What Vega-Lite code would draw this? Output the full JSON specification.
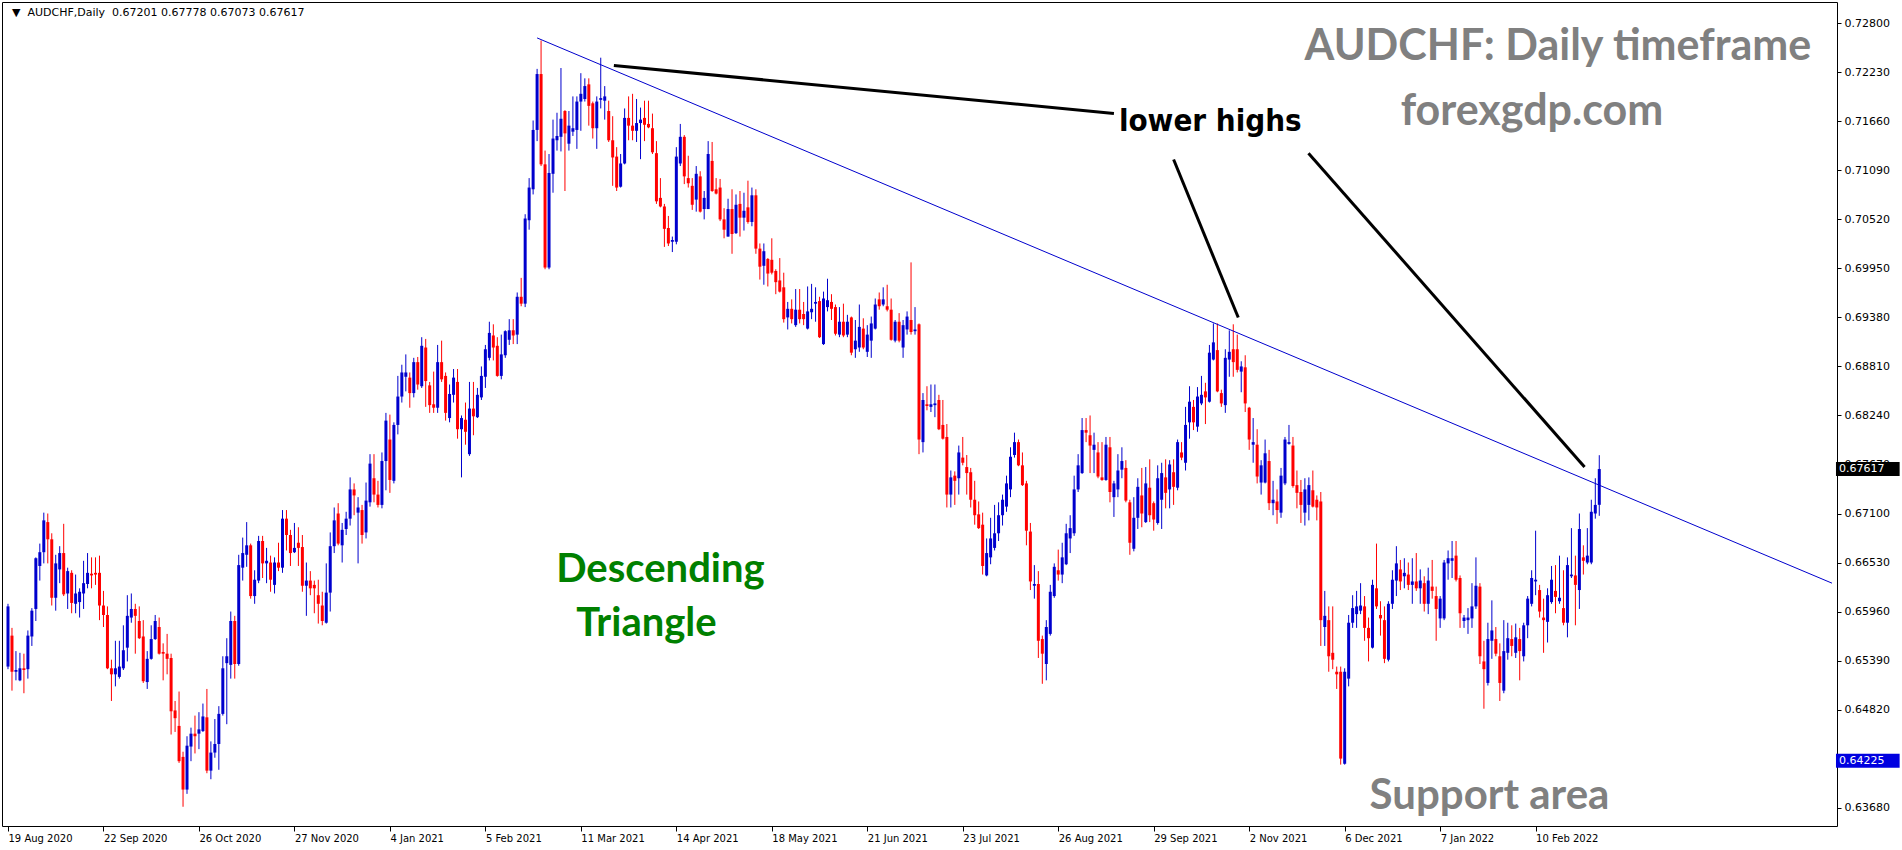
{
  "$schema": "https://vega.github.io/schema/vega-lite/v6.json",
  "width": 1835,
  "height": 824,
  "autosize": {"type": "none"},
  "padding": {"left": 2, "top": 2, "right": 65, "bottom": 24},
  "background": "white",
  "config": {"view": {"stroke": "black", "strokeWidth": 1}},
  "datasets": {
    "candles": [
{"i":0,"o":0.6532,"h":0.6605,"l":0.6529,"c":0.6602},{"i":1,"o":0.6568,"h":0.6577,"l":0.6504,"c":0.6526},{"i":2,"o":0.6526,"h":0.655,"l":0.6516,"c":0.6528},{"i":3,"o":0.6516,"h":0.6548,"l":0.6515,"c":0.653},{"i":4,"o":0.653,"h":0.6547,"l":0.6501,"c":0.6528},{"i":5,"o":0.6529,"h":0.6574,"l":0.6518,"c":0.6568},{"i":6,"o":0.6567,"h":0.66,"l":0.6556,"c":0.6597},{"i":7,"o":0.6599,"h":0.6659,"l":0.6585,"c":0.6658},{"i":8,"o":0.6649,"h":0.6675,"l":0.6632,"c":0.6665},{"i":9,"o":0.6665,"h":0.6711,"l":0.6652,"c":0.6702},
{"i":10,"o":0.67,"h":0.671,"l":0.6652,"c":0.668},{"i":11,"o":0.668,"h":0.6687,"l":0.6603,"c":0.6612},{"i":12,"o":0.6612,"h":0.6662,"l":0.6597,"c":0.6652},{"i":13,"o":0.6645,"h":0.6672,"l":0.6629,"c":0.6664},{"i":14,"o":0.6664,"h":0.6698,"l":0.6614,"c":0.6616},{"i":15,"o":0.6617,"h":0.6647,"l":0.6599,"c":0.6643},{"i":16,"o":0.6641,"h":0.6644,"l":0.6594,"c":0.6606},{"i":17,"o":0.6605,"h":0.6639,"l":0.6594,"c":0.6617},{"i":18,"o":0.6607,"h":0.6623,"l":0.6589,"c":0.6619},{"i":19,"o":0.6617,"h":0.6655,"l":0.6599,"c":0.6629},
{"i":20,"o":0.6628,"h":0.6664,"l":0.6623,"c":0.6641},{"i":21,"o":0.664,"h":0.6659,"l":0.6623,"c":0.6638},{"i":22,"o":0.6641,"h":0.6659,"l":0.6627,"c":0.6639},{"i":23,"o":0.6641,"h":0.6661,"l":0.6586,"c":0.6603},{"i":24,"o":0.6603,"h":0.662,"l":0.6578,"c":0.6592},{"i":25,"o":0.6592,"h":0.6602,"l":0.6529,"c":0.653},{"i":26,"o":0.653,"h":0.654,"l":0.6492,"c":0.6523},{"i":27,"o":0.6523,"h":0.6562,"l":0.6509,"c":0.653},{"i":28,"o":0.652,"h":0.6562,"l":0.6518,"c":0.6532},{"i":29,"o":0.653,"h":0.658,"l":0.6528,"c":0.6551},
{"i":30,"o":0.6554,"h":0.6615,"l":0.6538,"c":0.6591},{"i":31,"o":0.6589,"h":0.6617,"l":0.6583,"c":0.6599},{"i":32,"o":0.6599,"h":0.6605,"l":0.6547,"c":0.6591},{"i":33,"o":0.6585,"h":0.6602,"l":0.6564,"c":0.6565},{"i":34,"o":0.6567,"h":0.6586,"l":0.6513,"c":0.6515},{"i":35,"o":0.6514,"h":0.655,"l":0.6506,"c":0.6541},{"i":36,"o":0.6541,"h":0.658,"l":0.654,"c":0.6564},{"i":37,"o":0.6564,"h":0.6592,"l":0.6563,"c":0.6585},{"i":38,"o":0.6578,"h":0.6589,"l":0.6546,"c":0.6547},{"i":39,"o":0.6549,"h":0.6559,"l":0.6516,"c":0.6547},
{"i":40,"o":0.6547,"h":0.657,"l":0.6523,"c":0.6541},{"i":41,"o":0.6542,"h":0.6547,"l":0.6453,"c":0.648},{"i":42,"o":0.6481,"h":0.6492,"l":0.6456,"c":0.6472},{"i":43,"o":0.6463,"h":0.6503,"l":0.642,"c":0.6422},{"i":44,"o":0.6427,"h":0.6433,"l":0.6369,"c":0.6389},{"i":45,"o":0.6389,"h":0.6451,"l":0.6384,"c":0.644},{"i":46,"o":0.6439,"h":0.6461,"l":0.6422,"c":0.6454},{"i":47,"o":0.6454,"h":0.6475,"l":0.6431,"c":0.6451},{"i":48,"o":0.6454,"h":0.6479,"l":0.6436,"c":0.6459},{"i":49,"o":0.6457,"h":0.6489,"l":0.6456,"c":0.6474},
{"i":50,"o":0.6473,"h":0.6506,"l":0.6408,"c":0.6411},{"i":51,"o":0.6411,"h":0.6445,"l":0.6401,"c":0.6432},{"i":52,"o":0.6432,"h":0.6471,"l":0.6426,"c":0.6442},{"i":53,"o":0.6442,"h":0.6486,"l":0.6412,"c":0.6477},{"i":54,"o":0.6477,"h":0.6544,"l":0.6475,"c":0.653},{"i":55,"o":0.6536,"h":0.6565,"l":0.6465,"c":0.6544},{"i":56,"o":0.6534,"h":0.6596,"l":0.6518,"c":0.6585},{"i":57,"o":0.6585,"h":0.6591,"l":0.6518,"c":0.6535},{"i":58,"o":0.6535,"h":0.6662,"l":0.6533,"c":0.665},{"i":59,"o":0.6647,"h":0.6682,"l":0.6632,"c":0.6664},
{"i":60,"o":0.6662,"h":0.67,"l":0.6648,"c":0.6673},{"i":61,"o":0.6673,"h":0.6675,"l":0.6611,"c":0.6614},{"i":62,"o":0.6614,"h":0.6644,"l":0.6605,"c":0.6633},{"i":63,"o":0.6632,"h":0.6684,"l":0.6629,"c":0.6678},{"i":64,"o":0.6678,"h":0.6684,"l":0.6635,"c":0.6652},{"i":65,"o":0.6652,"h":0.667,"l":0.6629,"c":0.6655},{"i":66,"o":0.6653,"h":0.6661,"l":0.6619,"c":0.6633},{"i":67,"o":0.6627,"h":0.6659,"l":0.6617,"c":0.6653},{"i":68,"o":0.6653,"h":0.6676,"l":0.6643,"c":0.6647},{"i":69,"o":0.6647,"h":0.6714,"l":0.6641,"c":0.6704},
{"i":70,"o":0.6704,"h":0.6714,"l":0.6667,"c":0.6685},{"i":71,"o":0.6685,"h":0.6691,"l":0.6649,"c":0.6664},{"i":72,"o":0.6665,"h":0.6699,"l":0.6664,"c":0.667},{"i":73,"o":0.6676,"h":0.6694,"l":0.6649,"c":0.667},{"i":74,"o":0.6671,"h":0.6685,"l":0.6619,"c":0.6626},{"i":75,"o":0.6626,"h":0.6653,"l":0.6591,"c":0.6632},{"i":76,"o":0.6632,"h":0.6643,"l":0.6615,"c":0.6623},{"i":77,"o":0.6627,"h":0.6632,"l":0.6594,"c":0.6623},{"i":78,"o":0.6615,"h":0.6633,"l":0.6582,"c":0.6605},{"i":79,"o":0.6603,"h":0.6619,"l":0.658,"c":0.6585},
{"i":80,"o":0.6583,"h":0.6652,"l":0.6582,"c":0.6618},{"i":81,"o":0.6618,"h":0.6688,"l":0.6596,"c":0.6672},{"i":82,"o":0.6672,"h":0.6717,"l":0.6664,"c":0.6702},{"i":83,"o":0.671,"h":0.6722,"l":0.6673,"c":0.6675},{"i":84,"o":0.6673,"h":0.6699,"l":0.6653,"c":0.6691},{"i":85,"o":0.6692,"h":0.6712,"l":0.6685,"c":0.6704},{"i":86,"o":0.6704,"h":0.6752,"l":0.6696,"c":0.6738},{"i":87,"o":0.6738,"h":0.6745,"l":0.6708,"c":0.6731},{"i":88,"o":0.6711,"h":0.6729,"l":0.6652,"c":0.6717},{"i":89,"o":0.6714,"h":0.672,"l":0.6675,"c":0.6685},
{"i":90,"o":0.6688,"h":0.6746,"l":0.6681,"c":0.6725},{"i":91,"o":0.6723,"h":0.6779,"l":0.6718,"c":0.6768},{"i":92,"o":0.6751,"h":0.6779,"l":0.6723,"c":0.6732},{"i":93,"o":0.6732,"h":0.6748,"l":0.6717,"c":0.672},{"i":94,"o":0.672,"h":0.6781,"l":0.6716,"c":0.6771},{"i":95,"o":0.6771,"h":0.6827,"l":0.6737,"c":0.6818},{"i":96,"o":0.6796,"h":0.6825,"l":0.6734,"c":0.6749},{"i":97,"o":0.6748,"h":0.6816,"l":0.6745,"c":0.6813},{"i":98,"o":0.6813,"h":0.687,"l":0.6802,"c":0.6846},{"i":99,"o":0.6846,"h":0.6883,"l":0.6839,"c":0.6874},
{"i":100,"o":0.6869,"h":0.6895,"l":0.6852,"c":0.6874},{"i":101,"o":0.6868,"h":0.6874,"l":0.6833,"c":0.685},{"i":102,"o":0.685,"h":0.6891,"l":0.6845,"c":0.6886},{"i":103,"o":0.6886,"h":0.6892,"l":0.6854,"c":0.686},{"i":104,"o":0.6858,"h":0.6915,"l":0.6856,"c":0.6905},{"i":105,"o":0.6903,"h":0.6913,"l":0.6834,"c":0.6864},{"i":106,"o":0.6859,"h":0.6863,"l":0.6827,"c":0.6836},{"i":107,"o":0.6837,"h":0.6875,"l":0.6827,"c":0.6833},{"i":108,"o":0.6833,"h":0.6906,"l":0.6827,"c":0.6886},{"i":109,"o":0.6886,"h":0.6911,"l":0.6863,"c":0.6866},
{"i":110,"o":0.687,"h":0.6874,"l":0.6818,"c":0.6827},{"i":111,"o":0.6821,"h":0.686,"l":0.6816,"c":0.6849},{"i":112,"o":0.6848,"h":0.6878,"l":0.6839,"c":0.6868},{"i":113,"o":0.6863,"h":0.6878,"l":0.6797,"c":0.6808},{"i":114,"o":0.6808,"h":0.6824,"l":0.6752,"c":0.6821},{"i":115,"o":0.6819,"h":0.6839,"l":0.679,"c":0.6805},{"i":116,"o":0.6779,"h":0.6863,"l":0.6777,"c":0.6832},{"i":117,"o":0.6832,"h":0.6863,"l":0.6801,"c":0.6823},{"i":118,"o":0.6822,"h":0.6856,"l":0.6821,"c":0.6848},{"i":119,"o":0.6845,"h":0.6881,"l":0.6842,"c":0.687},
{"i":120,"o":0.6869,"h":0.6906,"l":0.6856,"c":0.6901},{"i":121,"o":0.6891,"h":0.6933,"l":0.6888,"c":0.692},{"i":122,"o":0.6917,"h":0.693,"l":0.6888,"c":0.6903},{"i":123,"o":0.6905,"h":0.6915,"l":0.6869,"c":0.687},{"i":124,"o":0.687,"h":0.6918,"l":0.6866,"c":0.6895},{"i":125,"o":0.6894,"h":0.6923,"l":0.6891,"c":0.6922},{"i":126,"o":0.6912,"h":0.6936,"l":0.6906,"c":0.6923},{"i":127,"o":0.6923,"h":0.6936,"l":0.6907,"c":0.6917},{"i":128,"o":0.6918,"h":0.6967,"l":0.6907,"c":0.6962},{"i":129,"o":0.6962,"h":0.6984,"l":0.6951,"c":0.6954},
{"i":130,"o":0.6954,"h":0.7058,"l":0.695,"c":0.7053},{"i":131,"o":0.7051,"h":0.71,"l":0.704,"c":0.7089},{"i":132,"o":0.7087,"h":0.7167,"l":0.7081,"c":0.7156},{"i":133,"o":0.7156,"h":0.7227,"l":0.7143,"c":0.7221},{"i":134,"o":0.7221,"h":0.726,"l":0.7114,"c":0.7116},{"i":135,"o":0.7116,"h":0.7132,"l":0.6994,"c":0.6996},{"i":136,"o":0.6996,"h":0.7128,"l":0.6994,"c":0.7106},{"i":137,"o":0.7105,"h":0.7168,"l":0.7083,"c":0.7146},{"i":138,"o":0.7144,"h":0.7176,"l":0.7132,"c":0.7149},{"i":139,"o":0.7148,"h":0.7228,"l":0.7131,"c":0.7169},
{"i":140,"o":0.7178,"h":0.7179,"l":0.7085,"c":0.7152},{"i":141,"o":0.714,"h":0.7178,"l":0.7132,"c":0.7161},{"i":142,"o":0.7154,"h":0.7195,"l":0.7149,"c":0.7158},{"i":143,"o":0.7156,"h":0.7195,"l":0.7134,"c":0.7189},{"i":144,"o":0.7189,"h":0.7222,"l":0.7155,"c":0.7198},{"i":145,"o":0.7192,"h":0.7216,"l":0.7189,"c":0.7207},{"i":146,"o":0.7209,"h":0.7216,"l":0.7161,"c":0.7184},{"i":147,"o":0.7187,"h":0.7189,"l":0.7146,"c":0.7158},{"i":148,"o":0.7158,"h":0.7195,"l":0.7134,"c":0.7189},{"i":149,"o":0.7191,"h":0.724,"l":0.7181,"c":0.7193},
{"i":150,"o":0.719,"h":0.7207,"l":0.7168,"c":0.7195},{"i":151,"o":0.7178,"h":0.719,"l":0.7142,"c":0.7144},{"i":152,"o":0.7144,"h":0.7172,"l":0.7091,"c":0.7124},{"i":153,"o":0.7125,"h":0.7136,"l":0.7085,"c":0.7089},{"i":154,"o":0.709,"h":0.7128,"l":0.7089,"c":0.7117},{"i":155,"o":0.7117,"h":0.7181,"l":0.7116,"c":0.717},{"i":156,"o":0.717,"h":0.7195,"l":0.7144,"c":0.7161},{"i":157,"o":0.7161,"h":0.7198,"l":0.7144,"c":0.7155},{"i":158,"o":0.7155,"h":0.7192,"l":0.7142,"c":0.7164},{"i":159,"o":0.7164,"h":0.7182,"l":0.7122,"c":0.7168},
{"i":160,"o":0.717,"h":0.719,"l":0.7143,"c":0.7162},{"i":161,"o":0.7163,"h":0.719,"l":0.7158,"c":0.7159},{"i":162,"o":0.7158,"h":0.7175,"l":0.7128,"c":0.713},{"i":163,"o":0.7129,"h":0.7143,"l":0.707,"c":0.7073},{"i":164,"o":0.7077,"h":0.71,"l":0.7066,"c":0.7067},{"i":165,"o":0.7067,"h":0.707,"l":0.702,"c":0.7041},{"i":166,"o":0.7042,"h":0.7056,"l":0.7021,"c":0.7024},{"i":167,"o":0.7026,"h":0.7032,"l":0.7014,"c":0.7028},{"i":168,"o":0.7026,"h":0.7136,"l":0.7023,"c":0.7125},{"i":169,"o":0.7117,"h":0.7163,"l":0.7114,"c":0.7148},
{"i":170,"o":0.7148,"h":0.715,"l":0.7093,"c":0.7102},{"i":171,"o":0.71,"h":0.7126,"l":0.7089,"c":0.7094},{"i":172,"o":0.7091,"h":0.71,"l":0.7063,"c":0.7069},{"i":173,"o":0.7075,"h":0.7114,"l":0.7061,"c":0.7105},{"i":174,"o":0.7102,"h":0.7108,"l":0.706,"c":0.7061},{"i":175,"o":0.7064,"h":0.7085,"l":0.7052,"c":0.7077},{"i":176,"o":0.7064,"h":0.7143,"l":0.7064,"c":0.7128},{"i":177,"o":0.712,"h":0.7142,"l":0.7084,"c":0.7085},{"i":178,"o":0.7087,"h":0.71,"l":0.7081,"c":0.7082},{"i":179,"o":0.7089,"h":0.7099,"l":0.705,"c":0.7052},
{"i":180,"o":0.7052,"h":0.7065,"l":0.703,"c":0.704},{"i":181,"o":0.7032,"h":0.7076,"l":0.7032,"c":0.7064},{"i":182,"o":0.7064,"h":0.7087,"l":0.7012,"c":0.7035},{"i":183,"o":0.7036,"h":0.7081,"l":0.7035,"c":0.7069},{"i":184,"o":0.707,"h":0.7085,"l":0.7032,"c":0.7054},{"i":185,"o":0.7054,"h":0.7083,"l":0.7039,"c":0.7062},{"i":186,"o":0.7066,"h":0.7097,"l":0.7047,"c":0.7049},{"i":187,"o":0.7049,"h":0.7089,"l":0.7044,"c":0.708},{"i":188,"o":0.708,"h":0.7087,"l":0.7012,"c":0.7018},{"i":189,"o":0.7018,"h":0.7024,"l":0.6982,"c":0.6997},
{"i":190,"o":0.6998,"h":0.7024,"l":0.6976,"c":0.7015},{"i":191,"o":0.7006,"h":0.7007,"l":0.6974,"c":0.6989},{"i":192,"o":0.7005,"h":0.703,"l":0.6988,"c":0.699},{"i":193,"o":0.6992,"h":0.6994,"l":0.6965,"c":0.6979},{"i":194,"o":0.6981,"h":0.7007,"l":0.6967,"c":0.6968},{"i":195,"o":0.6973,"h":0.699,"l":0.6932,"c":0.6936},{"i":196,"o":0.6938,"h":0.6956,"l":0.6924,"c":0.6948},{"i":197,"o":0.6948,"h":0.6959,"l":0.6931,"c":0.6936},{"i":198,"o":0.6929,"h":0.6971,"l":0.6927,"c":0.6947},{"i":199,"o":0.6947,"h":0.6971,"l":0.6931,"c":0.6936},
{"i":200,"o":0.6942,"h":0.6956,"l":0.6929,"c":0.6936},{"i":201,"o":0.6925,"h":0.6974,"l":0.6924,"c":0.6945},{"i":202,"o":0.6944,"h":0.6977,"l":0.6936,"c":0.6948},{"i":203,"o":0.6954,"h":0.6973,"l":0.6933,"c":0.6956},{"i":204,"o":0.6957,"h":0.6962,"l":0.6914,"c":0.6915},{"i":205,"o":0.6907,"h":0.6968,"l":0.6906,"c":0.696},{"i":206,"o":0.695,"h":0.6983,"l":0.6945,"c":0.6958},{"i":207,"o":0.6956,"h":0.6965,"l":0.6935,"c":0.6948},{"i":208,"o":0.695,"h":0.6953,"l":0.6917,"c":0.6919},{"i":209,"o":0.6918,"h":0.695,"l":0.6915,"c":0.6933},
{"i":210,"o":0.6933,"h":0.6954,"l":0.6915,"c":0.6917},{"i":211,"o":0.6918,"h":0.6941,"l":0.6915,"c":0.6933},{"i":212,"o":0.6938,"h":0.6939,"l":0.6894,"c":0.6897},{"i":213,"o":0.6901,"h":0.6935,"l":0.6891,"c":0.6911},{"i":214,"o":0.6903,"h":0.6953,"l":0.6898,"c":0.6927},{"i":215,"o":0.6925,"h":0.6937,"l":0.6901,"c":0.6903},{"i":216,"o":0.6898,"h":0.6929,"l":0.6892,"c":0.6918},{"i":217,"o":0.6911,"h":0.6939,"l":0.6891,"c":0.6931},{"i":218,"o":0.6925,"h":0.696,"l":0.6924,"c":0.6953},{"i":219,"o":0.6959,"h":0.6967,"l":0.6947,"c":0.6951},
{"i":220,"o":0.6953,"h":0.6973,"l":0.6951,"c":0.6959},{"i":221,"o":0.6951,"h":0.6976,"l":0.6945,"c":0.6947},{"i":222,"o":0.6947,"h":0.696,"l":0.6911,"c":0.6912},{"i":223,"o":0.6911,"h":0.6935,"l":0.6909,"c":0.6933},{"i":224,"o":0.6933,"h":0.6943,"l":0.6909,"c":0.6911},{"i":225,"o":0.6903,"h":0.6935,"l":0.6891,"c":0.6929},{"i":226,"o":0.6924,"h":0.6945,"l":0.6918,"c":0.6939},{"i":227,"o":0.6935,"h":0.7002,"l":0.6918,"c":0.6921},{"i":228,"o":0.6922,"h":0.695,"l":0.6918,"c":0.6924},{"i":229,"o":0.693,"h":0.6931,"l":0.6779,"c":0.6796},
{"i":230,"o":0.6793,"h":0.685,"l":0.6781,"c":0.6842},{"i":231,"o":0.6837,"h":0.6858,"l":0.683,"c":0.6835},{"i":232,"o":0.6834,"h":0.686,"l":0.6828,"c":0.6837},{"i":233,"o":0.6836,"h":0.686,"l":0.6822,"c":0.6838},{"i":234,"o":0.6842,"h":0.6848,"l":0.6807,"c":0.6808},{"i":235,"o":0.6813,"h":0.6842,"l":0.6796,"c":0.6797},{"i":236,"o":0.6799,"h":0.6814,"l":0.6717,"c":0.6732},{"i":237,"o":0.6732,"h":0.676,"l":0.6717,"c":0.6752},{"i":238,"o":0.6754,"h":0.6759,"l":0.672,"c":0.6748},{"i":239,"o":0.6751,"h":0.6789,"l":0.6732,"c":0.6781},
{"i":240,"o":0.6775,"h":0.6799,"l":0.6766,"c":0.6769},{"i":241,"o":0.6764,"h":0.6778,"l":0.6732,"c":0.6757},{"i":242,"o":0.6758,"h":0.6763,"l":0.6717,"c":0.6726},{"i":243,"o":0.6726,"h":0.6748,"l":0.6697,"c":0.6708},{"i":244,"o":0.6709,"h":0.6724,"l":0.6692,"c":0.6693},{"i":245,"o":0.6697,"h":0.6711,"l":0.6639,"c":0.6649},{"i":246,"o":0.6638,"h":0.6681,"l":0.6637,"c":0.6664},{"i":247,"o":0.6659,"h":0.6705,"l":0.6651,"c":0.6681},{"i":248,"o":0.667,"h":0.672,"l":0.6667,"c":0.6687},{"i":249,"o":0.6687,"h":0.6723,"l":0.6678,"c":0.6708},
{"i":250,"o":0.6708,"h":0.6732,"l":0.6696,"c":0.6726},{"i":251,"o":0.6718,"h":0.6754,"l":0.6712,"c":0.6745},{"i":252,"o":0.6738,"h":0.6787,"l":0.6729,"c":0.6776},{"i":253,"o":0.6778,"h":0.6804,"l":0.6775,"c":0.6793},{"i":254,"o":0.6793,"h":0.6796,"l":0.6765,"c":0.6766},{"i":255,"o":0.6766,"h":0.6781,"l":0.6742,"c":0.6743},{"i":256,"o":0.6745,"h":0.6748,"l":0.6673,"c":0.669},{"i":257,"o":0.6689,"h":0.6699,"l":0.6621,"c":0.6631},{"i":258,"o":0.6626,"h":0.665,"l":0.6611,"c":0.6628},{"i":259,"o":0.6628,"h":0.6643,"l":0.6542,"c":0.6562},
{"i":260,"o":0.6564,"h":0.6568,"l":0.6512,"c":0.6547},{"i":261,"o":0.6535,"h":0.6586,"l":0.6516,"c":0.6578},{"i":262,"o":0.657,"h":0.6627,"l":0.6568,"c":0.6619},{"i":263,"o":0.6614,"h":0.6652,"l":0.6612,"c":0.6648},{"i":264,"o":0.6644,"h":0.6668,"l":0.6632,"c":0.6639},{"i":265,"o":0.6639,"h":0.6676,"l":0.6629,"c":0.6659},{"i":266,"o":0.6651,"h":0.6698,"l":0.665,"c":0.6687},{"i":267,"o":0.6681,"h":0.6708,"l":0.6664,"c":0.6693},{"i":268,"o":0.6687,"h":0.6754,"l":0.6684,"c":0.6738},{"i":269,"o":0.6738,"h":0.6779,"l":0.6735,"c":0.6766},
{"i":270,"o":0.6757,"h":0.6821,"l":0.6756,"c":0.6807},{"i":271,"o":0.6807,"h":0.6821,"l":0.6793,"c":0.6804},{"i":272,"o":0.6801,"h":0.6824,"l":0.6757,"c":0.6789},{"i":273,"o":0.6784,"h":0.6804,"l":0.6757,"c":0.679},{"i":274,"o":0.6781,"h":0.6793,"l":0.6751,"c":0.6753},{"i":275,"o":0.6752,"h":0.6793,"l":0.6748,"c":0.6749},{"i":276,"o":0.6749,"h":0.6799,"l":0.6748,"c":0.679},{"i":277,"o":0.6787,"h":0.6799,"l":0.6723,"c":0.6735},{"i":278,"o":0.6729,"h":0.6748,"l":0.6706,"c":0.6745},{"i":279,"o":0.6738,"h":0.6779,"l":0.6729,"c":0.676},
{"i":280,"o":0.6761,"h":0.6787,"l":0.6751,"c":0.6771},{"i":281,"o":0.6763,"h":0.6772,"l":0.6723,"c":0.6725},{"i":282,"o":0.6723,"h":0.6726,"l":0.6662,"c":0.6676},{"i":283,"o":0.6669,"h":0.6729,"l":0.6666,"c":0.6705},{"i":284,"o":0.6705,"h":0.6751,"l":0.6692,"c":0.6741},{"i":285,"o":0.6731,"h":0.6763,"l":0.6694,"c":0.671},{"i":286,"o":0.67,"h":0.6764,"l":0.6699,"c":0.6745},{"i":287,"o":0.674,"h":0.6773,"l":0.67,"c":0.6708},{"i":288,"o":0.6722,"h":0.6724,"l":0.669,"c":0.6703},{"i":289,"o":0.6699,"h":0.6766,"l":0.6697,"c":0.6751},
{"i":290,"o":0.6726,"h":0.6769,"l":0.6692,"c":0.6757},{"i":291,"o":0.6752,"h":0.6773,"l":0.6716,"c":0.6734},{"i":292,"o":0.6738,"h":0.6772,"l":0.6716,"c":0.6767},{"i":293,"o":0.6758,"h":0.6773,"l":0.672,"c":0.6741},{"i":294,"o":0.674,"h":0.6796,"l":0.6737,"c":0.6793},{"i":295,"o":0.6781,"h":0.6793,"l":0.6772,"c":0.6775},{"i":296,"o":0.6769,"h":0.6834,"l":0.676,"c":0.6813},{"i":297,"o":0.6816,"h":0.6858,"l":0.6797,"c":0.684},{"i":298,"o":0.6834,"h":0.6842,"l":0.6807,"c":0.6816},{"i":299,"o":0.6811,"h":0.6857,"l":0.6805,"c":0.6846},
{"i":300,"o":0.6838,"h":0.687,"l":0.6836,"c":0.6848},{"i":301,"o":0.6852,"h":0.6862,"l":0.6814,"c":0.6845},{"i":302,"o":0.684,"h":0.6906,"l":0.6839,"c":0.6897},{"i":303,"o":0.6889,"h":0.6931,"l":0.6888,"c":0.6909},{"i":304,"o":0.69,"h":0.6931,"l":0.6851,"c":0.6852},{"i":305,"o":0.685,"h":0.6854,"l":0.6834,"c":0.6838},{"i":306,"o":0.6836,"h":0.6901,"l":0.6827,"c":0.6891},{"i":307,"o":0.6889,"h":0.6923,"l":0.6869,"c":0.6898},{"i":308,"o":0.6901,"h":0.693,"l":0.6869,"c":0.6886},{"i":309,"o":0.6901,"h":0.6918,"l":0.6874,"c":0.6877},
{"i":310,"o":0.6875,"h":0.6887,"l":0.6851,"c":0.6881},{"i":311,"o":0.688,"h":0.6894,"l":0.6828,"c":0.6838},{"i":312,"o":0.6833,"h":0.6834,"l":0.6784,"c":0.6796},{"i":313,"o":0.679,"h":0.6821,"l":0.6769,"c":0.6793},{"i":314,"o":0.679,"h":0.6808,"l":0.6745,"c":0.6753},{"i":315,"o":0.6746,"h":0.6772,"l":0.6732,"c":0.6766},{"i":316,"o":0.6746,"h":0.6796,"l":0.6745,"c":0.678},{"i":317,"o":0.6771,"h":0.6784,"l":0.6714,"c":0.6722},{"i":318,"o":0.6722,"h":0.6748,"l":0.6708,"c":0.6726},{"i":319,"o":0.6724,"h":0.6738,"l":0.6698,"c":0.6714},
{"i":320,"o":0.6711,"h":0.6763,"l":0.6705,"c":0.6754},{"i":321,"o":0.6745,"h":0.6799,"l":0.6743,"c":0.6796},{"i":322,"o":0.6791,"h":0.6813,"l":0.679,"c":0.6793},{"i":323,"o":0.6789,"h":0.6799,"l":0.674,"c":0.6742},{"i":324,"o":0.6743,"h":0.676,"l":0.6716,"c":0.6734},{"i":325,"o":0.6735,"h":0.6749,"l":0.6699,"c":0.672},{"i":326,"o":0.6711,"h":0.6751,"l":0.6696,"c":0.6738},{"i":327,"o":0.672,"h":0.6752,"l":0.6702,"c":0.6743},{"i":328,"o":0.6737,"h":0.676,"l":0.6717,"c":0.6718},{"i":329,"o":0.6726,"h":0.6731,"l":0.6702,"c":0.6717},
{"i":330,"o":0.6724,"h":0.6735,"l":0.6556,"c":0.6586},{"i":331,"o":0.6578,"h":0.662,"l":0.6556,"c":0.6591},{"i":332,"o":0.6586,"h":0.6602,"l":0.6526,"c":0.6544},{"i":333,"o":0.6548,"h":0.6602,"l":0.6529,"c":0.654},{"i":334,"o":0.6526,"h":0.6532,"l":0.6506,"c":0.6523},{"i":335,"o":0.6526,"h":0.6532,"l":0.6418,"c":0.6425},{"i":336,"o":0.6419,"h":0.653,"l":0.6418,"c":0.6526},{"i":337,"o":0.6518,"h":0.6592,"l":0.6509,"c":0.6583},{"i":338,"o":0.6583,"h":0.6615,"l":0.6577,"c":0.66},{"i":339,"o":0.6593,"h":0.662,"l":0.6577,"c":0.6602},
{"i":340,"o":0.6597,"h":0.6629,"l":0.6593,"c":0.6603},{"i":341,"o":0.6602,"h":0.6614,"l":0.6562,"c":0.6577},{"i":342,"o":0.6577,"h":0.6589,"l":0.6538,"c":0.6565},{"i":343,"o":0.6554,"h":0.6633,"l":0.6553,"c":0.6627},{"i":344,"o":0.6623,"h":0.6675,"l":0.6599,"c":0.6602},{"i":345,"o":0.6592,"h":0.6608,"l":0.6568,"c":0.6588},{"i":346,"o":0.6586,"h":0.6602,"l":0.6536,"c":0.6541},{"i":347,"o":0.654,"h":0.6608,"l":0.6538,"c":0.6605},{"i":348,"o":0.6605,"h":0.6644,"l":0.6599,"c":0.6633},{"i":349,"o":0.6632,"h":0.6672,"l":0.6614,"c":0.6652},
{"i":350,"o":0.6645,"h":0.6656,"l":0.6621,"c":0.6631},{"i":351,"o":0.6637,"h":0.6658,"l":0.6623,"c":0.6641},{"i":352,"o":0.6639,"h":0.6653,"l":0.6621,"c":0.6627},{"i":353,"o":0.6627,"h":0.6658,"l":0.6605,"c":0.6631},{"i":354,"o":0.6631,"h":0.6664,"l":0.662,"c":0.6623},{"i":355,"o":0.6623,"h":0.6645,"l":0.6605,"c":0.6632},{"i":356,"o":0.6629,"h":0.6637,"l":0.6596,"c":0.6605},{"i":357,"o":0.6605,"h":0.6647,"l":0.6593,"c":0.6632},{"i":358,"o":0.6625,"h":0.6656,"l":0.6611,"c":0.662},{"i":359,"o":0.6614,"h":0.6625,"l":0.6562,"c":0.6599},
{"i":360,"o":0.6588,"h":0.6614,"l":0.6577,"c":0.6611},{"i":361,"o":0.6588,"h":0.6656,"l":0.6586,"c":0.6653},{"i":362,"o":0.6652,"h":0.6667,"l":0.6633,"c":0.6658},{"i":363,"o":0.6655,"h":0.6678,"l":0.6635,"c":0.6658},{"i":364,"o":0.6661,"h":0.6678,"l":0.6631,"c":0.6633},{"i":365,"o":0.6635,"h":0.6638,"l":0.6577,"c":0.6594},{"i":366,"o":0.6585,"h":0.6592,"l":0.6577,"c":0.6589},{"i":367,"o":0.6586,"h":0.66,"l":0.657,"c":0.6589},{"i":368,"o":0.6588,"h":0.6629,"l":0.6577,"c":0.6602},{"i":369,"o":0.6602,"h":0.6659,"l":0.6599,"c":0.6626},
{"i":370,"o":0.6625,"h":0.6629,"l":0.6535,"c":0.6544},{"i":371,"o":0.6538,"h":0.6562,"l":0.6483,"c":0.6529},{"i":372,"o":0.6513,"h":0.6583,"l":0.651,"c":0.6564},{"i":373,"o":0.6562,"h":0.6609,"l":0.6541,"c":0.6574},{"i":374,"o":0.6564,"h":0.6578,"l":0.6544,"c":0.6547},{"i":375,"o":0.6544,"h":0.6559,"l":0.6492,"c":0.6513},{"i":376,"o":0.6504,"h":0.6586,"l":0.6501,"c":0.655},{"i":377,"o":0.6548,"h":0.6583,"l":0.654,"c":0.6565},{"i":378,"o":0.6564,"h":0.658,"l":0.6544,"c":0.6556},{"i":379,"o":0.6548,"h":0.6582,"l":0.6542,"c":0.6566},
{"i":380,"o":0.6564,"h":0.6577,"l":0.6516,"c":0.655},{"i":381,"o":0.6544,"h":0.6583,"l":0.6538,"c":0.658},{"i":382,"o":0.658,"h":0.6614,"l":0.6565,"c":0.6611},{"i":383,"o":0.6605,"h":0.6644,"l":0.6602,"c":0.6635},{"i":384,"o":0.6631,"h":0.669,"l":0.6615,"c":0.6633},{"i":385,"o":0.6621,"h":0.6627,"l":0.6589,"c":0.6596},{"i":386,"o":0.6589,"h":0.6611,"l":0.6548,"c":0.6586},{"i":387,"o":0.6584,"h":0.6623,"l":0.656,"c":0.6615},{"i":388,"o":0.6607,"h":0.6649,"l":0.6605,"c":0.6633},{"i":389,"o":0.662,"h":0.665,"l":0.6594,"c":0.6613},
{"i":390,"o":0.6608,"h":0.6661,"l":0.6605,"c":0.6612},{"i":391,"o":0.66,"h":0.6644,"l":0.658,"c":0.6583},{"i":392,"o":0.6583,"h":0.6659,"l":0.6566,"c":0.665},{"i":393,"o":0.6637,"h":0.6693,"l":0.6635,"c":0.6639},{"i":394,"o":0.6638,"h":0.6661,"l":0.658,"c":0.6627},{"i":395,"o":0.6621,"h":0.671,"l":0.6599,"c":0.6692},{"i":396,"o":0.6659,"h":0.6673,"l":0.6639,"c":0.6655},{"i":397,"o":0.6653,"h":0.6693,"l":0.6651,"c":0.6661},{"i":398,"o":0.6653,"h":0.6726,"l":0.6651,"c":0.6712},{"i":399,"o":0.671,"h":0.6751,"l":0.6704,"c":0.672},
{"i":400,"o":0.67201,"h":0.67778,"l":0.67073,"c":0.67617}
    ],
    "trend": [{"i": 133, "p": 0.7263}, {"i": 458.5, "p": 0.6629}],
    "arrows": [
      {"seg": "a", "i": 152.3, "p": 0.7231}, {"seg": "a", "i": 278, "p": 0.71751},
      {"seg": "b", "i": 293, "p": 0.71216}, {"seg": "b", "i": 309.25, "p": 0.69379},
      {"seg": "c", "i": 326.9, "p": 0.7129}, {"seg": "c", "i": 396.3, "p": 0.67641}
    ],
    "pricetags": [
      {"t": "0.67617", "p": 0.67617, "x1": 459.5, "x2": 475.5, "y1": 0.67699, "y2": 0.67535, "tx": 460.25, "kind": "bid"},
      {"t": "0.64225", "p": 0.64225, "x1": 459.5, "x2": 475.5, "y1": 0.64307, "y2": 0.64143, "tx": 460.25, "kind": "support"}
    ]
  },
  "layer": [
    {
      "mark": {"type": "rule", "color": "#778899", "strokeWidth": 1},
      "encoding": {"y": {"datum": 0.67617, "type": "quantitative", "scale": {"domain": [0.634663, 0.730477], "nice": false, "zero": false}, "title": null}}
    },
    {
      "mark": {"type": "rule", "color": "#0000CD", "strokeWidth": 1},
      "encoding": {"y": {"datum": 0.64225, "type": "quantitative", "scale": {"domain": [0.634663, 0.730477], "nice": false, "zero": false}, "title": null}}
    },
    {
      "data": {"name": "candles"},
      "mark": {"type": "rule", "strokeWidth": 1},
      "encoding": {
        "x": {"field": "i", "type": "quantitative", "title": null,
          "scale": {"domain": [-0.25, 458.5], "nice": false, "zero": false},
          "axis": {"values": [0,24,48,72,96,120,144,168,192,216,240,264,288,312,336,360,384],
            "labelExpr": "['19 Aug 2020','22 Sep 2020','26 Oct 2020','27 Nov 2020','4 Jan 2021','5 Feb 2021','11 Mar 2021','14 Apr 2021','18 May 2021','21 Jun 2021','23 Jul 2021','26 Aug 2021','29 Sep 2021','2 Nov 2021','6 Dec 2021','7 Jan 2022','10 Feb 2022'][round(datum.value/24)]",
            "grid": false, "domain": false, "tickSize": 5, "tickColor": "black", "tickWidth": 1,
            "labelAlign": "left", "labelBaseline": "top", "labelPadding": 2, "labelFont": "DejaVu Sans", "labelFontSize": 10, "labelColor": "black",
            "labelOverlap": false, "labelFlush": false, "title": null}},
        "y": {"field": "l", "type": "quantitative", "title": null,
          "scale": {"domain": [0.634663, 0.730477], "nice": false, "zero": false},
          "axis": {"orient": "right", "values": [0.728,0.7223,0.7166,0.7109,0.7052,0.6995,0.6938,0.6881,0.6824,0.6767,0.671,0.6653,0.6596,0.6539,0.6482,0.6425,0.6368],
            "format": ".5f", "grid": false, "domain": false, "tickSize": 4, "tickColor": "black", "labelPadding": 3,
            "labelFont": "DejaVu Sans", "labelFontSize": 11, "labelColor": "black", "labelAlign": "left", "labelBaseline": "middle",
            "labelOverlap": false, "labelFlush": false, "title": null}},
        "y2": {"field": "h"},
        "color": {"condition": {"test": "datum.c >= datum.o", "value": "#0000CD"}, "value": "#FF0000"}
      }
    },
    {
      "data": {"name": "candles"},
      "mark": {"type": "bar", "size": 3},
      "encoding": {
        "x": {"field": "i", "type": "quantitative", "title": null, "scale": {"domain": [-0.25, 458.5], "nice": false, "zero": false}},
        "y": {"field": "o", "type": "quantitative", "title": null, "scale": {"domain": [0.634663, 0.730477], "nice": false, "zero": false}},
        "y2": {"field": "c"},
        "color": {"condition": {"test": "datum.c >= datum.o", "value": "#0000CD"}, "value": "#FF0000"}
      }
    },
    {
      "data": {"name": "trend"},
      "mark": {"type": "line", "color": "#0000CD", "strokeWidth": 1, "clip": true},
      "encoding": {
        "x": {"field": "i", "type": "quantitative", "title": null, "scale": {"domain": [-0.25, 458.5], "nice": false, "zero": false}},
        "y": {"field": "p", "type": "quantitative", "title": null, "scale": {"domain": [0.634663, 0.730477], "nice": false, "zero": false}}
      }
    },
    {
      "data": {"name": "arrows"},
      "mark": {"type": "line", "color": "black", "strokeWidth": 3},
      "encoding": {
        "x": {"field": "i", "type": "quantitative", "title": null, "scale": {"domain": [-0.25, 458.5], "nice": false, "zero": false}},
        "y": {"field": "p", "type": "quantitative", "title": null, "scale": {"domain": [0.634663, 0.730477], "nice": false, "zero": false}},
        "detail": {"field": "seg"}
      }
    },
    {
      "data": {"values": [{"t": "▼\u00a0\u00a0AUDCHF,Daily\u00a0\u00a00.67201 0.67778 0.67073 0.67617", "i": 1.0, "p": 0.72923}]},
      "mark": {"type": "text", "align": "left", "baseline": "middle", "font": "DejaVu Sans", "fontSize": 11, "color": "black"},
      "encoding": {
        "x": {"field": "i", "type": "quantitative", "title": null, "scale": {"domain": [-0.25, 458.5], "nice": false, "zero": false}},
        "y": {"field": "p", "type": "quantitative", "title": null, "scale": {"domain": [0.634663, 0.730477], "nice": false, "zero": false}},
        "text": {"field": "t"}
      }
    },
    {
      "data": {"values": [{"t": "lower highs", "i": 279.25, "p": 0.71548}]},
      "mark": {"type": "text", "align": "left", "baseline": "alphabetic", "font": "DejaVu Sans Condensed, DejaVu Sans", "fontWeight": "bold", "fontSize": 31, "color": "black"},
      "encoding": {
        "x": {"field": "i", "type": "quantitative", "title": null, "scale": {"domain": [-0.25, 458.5], "nice": false, "zero": false}},
        "y": {"field": "p", "type": "quantitative", "title": null, "scale": {"domain": [0.634663, 0.730477], "nice": false, "zero": false}},
        "text": {"field": "t"}
      }
    },
    {
      "data": {"values": [{"t": "Descending", "i": 164.0, "p": 0.66308}, {"t": "Triangle", "i": 160.5, "p": 0.6567}]},
      "mark": {"type": "text", "align": "center", "baseline": "alphabetic", "font": "Lato", "fontWeight": "bold", "fontSize": 40, "color": "#008000"},
      "encoding": {
        "x": {"field": "i", "type": "quantitative", "title": null, "scale": {"domain": [-0.25, 458.5], "nice": false, "zero": false}},
        "y": {"field": "p", "type": "quantitative", "title": null, "scale": {"domain": [0.634663, 0.730477], "nice": false, "zero": false}},
        "text": {"field": "t"}
      }
    },
    {
      "data": {"values": [{"t": "AUDCHF: Daily timeframe", "i": 389.6, "p": 0.72373}]},
      "mark": {"type": "text", "align": "center", "baseline": "alphabetic", "font": "Lato", "fontWeight": "bold", "fontSize": 43, "color": "#808080"},
      "encoding": {
        "x": {"field": "i", "type": "quantitative", "title": null, "scale": {"domain": [-0.25, 458.5], "nice": false, "zero": false}},
        "y": {"field": "p", "type": "quantitative", "title": null, "scale": {"domain": [0.634663, 0.730477], "nice": false, "zero": false}},
        "text": {"field": "t"}
      }
    },
    {
      "data": {"values": [{"t": "forexgdp.com", "i": 383.1, "p": 0.71617}]},
      "mark": {"type": "text", "align": "center", "baseline": "alphabetic", "font": "Lato", "fontWeight": "bold", "fontSize": 43, "color": "#808080"},
      "encoding": {
        "x": {"field": "i", "type": "quantitative", "title": null, "scale": {"domain": [-0.25, 458.5], "nice": false, "zero": false}},
        "y": {"field": "p", "type": "quantitative", "title": null, "scale": {"domain": [0.634663, 0.730477], "nice": false, "zero": false}},
        "text": {"field": "t"}
      }
    },
    {
      "data": {"values": [{"t": "Support area", "i": 372.4, "p": 0.63664}]},
      "mark": {"type": "text", "align": "center", "baseline": "alphabetic", "font": "Lato", "fontWeight": "bold", "fontSize": 42, "color": "#808080"},
      "encoding": {
        "x": {"field": "i", "type": "quantitative", "title": null, "scale": {"domain": [-0.25, 458.5], "nice": false, "zero": false}},
        "y": {"field": "p", "type": "quantitative", "title": null, "scale": {"domain": [0.634663, 0.730477], "nice": false, "zero": false}},
        "text": {"field": "t"}
      }
    },
    {
      "data": {"name": "pricetags"},
      "mark": {"type": "rect", "clip": false, "strokeWidth": 0},
      "encoding": {
        "x": {"field": "x1", "type": "quantitative", "title": null, "scale": {"domain": [-0.25, 458.5], "nice": false, "zero": false}},
        "x2": {"field": "x2"},
        "y": {"field": "y1", "type": "quantitative", "title": null, "scale": {"domain": [0.634663, 0.730477], "nice": false, "zero": false}},
        "y2": {"field": "y2"},
        "fill": {"condition": {"test": "datum.kind == 'bid'", "value": "#000000"}, "value": "#0000E0"},
        "fillOpacity": {"value": 1}
      }
    },
    {
      "data": {"name": "pricetags"},
      "mark": {"type": "text", "align": "left", "baseline": "middle", "font": "DejaVu Sans", "fontSize": 11, "clip": false},
      "encoding": {
        "x": {"field": "tx", "type": "quantitative", "title": null, "scale": {"domain": [-0.25, 458.5], "nice": false, "zero": false}},
        "y": {"field": "p", "type": "quantitative", "title": null, "scale": {"domain": [0.634663, 0.730477], "nice": false, "zero": false}},
        "text": {"field": "t"},
        "color": {"value": "white"}
      }
    }
  ]
}
